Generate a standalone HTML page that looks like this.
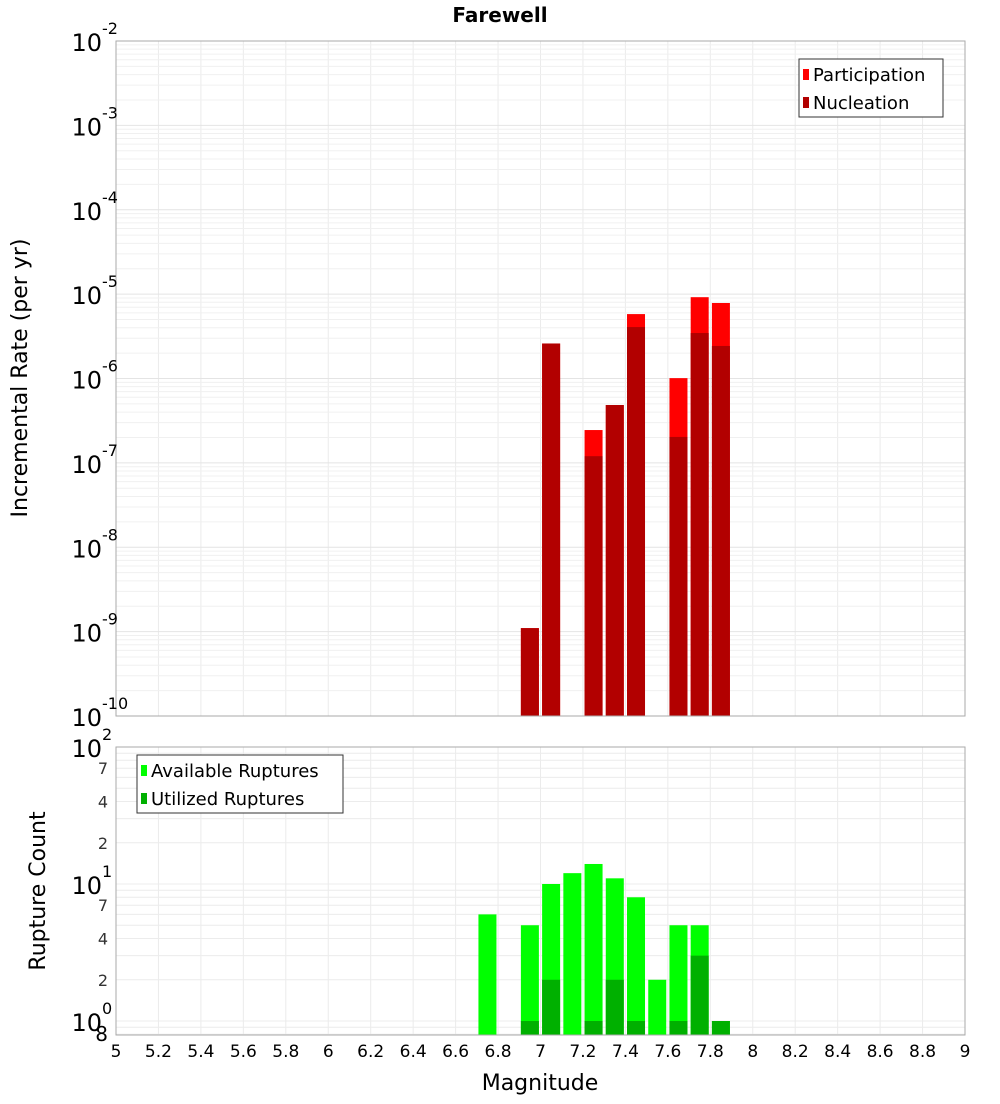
<!DOCTYPE html>
<html><head><meta charset="utf-8"><style>
body{margin:0;background:#fff;font-family:"DejaVu Sans","Liberation Sans",sans-serif;}
svg text{font-family:"DejaVu Sans","Liberation Sans",sans-serif;}
</style></head><body>
<svg id="chart" width="1000" height="1100" xmlns="http://www.w3.org/2000/svg">
<text x="500" y="22" text-anchor="middle" font-size="20" font-weight="bold">Farewell</text>
<g id="gtop"></g>
<g id="gbot"></g>
<text transform="translate(27,378) rotate(-90)" text-anchor="middle" font-size="22">Incremental Rate (per yr)</text>
<text transform="translate(45,891) rotate(-90)" text-anchor="middle" font-size="22">Rupture Count</text>
<text x="540" y="1090" text-anchor="middle" font-size="22">Magnitude</text>
</svg>
<script>
const mags=[6.75,6.95,7.05,7.25,7.35,7.45,7.65,7.75,7.85];
const participation=[0,1.1e-9,2.6e-6,2.45e-7,4.85e-7,5.8e-6,1.01e-6,9.2e-6,7.85e-6];
const nucleation=[0,1.1e-9,2.6e-6,1.2e-7,4.85e-7,4.07e-6,2.03e-7,3.46e-6,2.43e-6];
const available=[6,5,10,12,14,11,8,2,5,5,1];
const utilized=[0,1,2,0,1,2,1,0,1,3,1];
const countMags=[6.75,6.95,7.05,7.15,7.25,7.35,7.45,7.55,7.65,7.75,7.85];
const xTicks=[5,5.2,5.4,5.6,5.8,6,6.2,6.4,6.6,6.8,7,7.2,7.4,7.6,7.8,8,8.2,8.4,8.6,8.8,9];
const rateExps=[-2,-3,-4,-5,-6,-7,-8,-9,-10];
const countExps=[2,1,0];
const countMinor=[7,4,2];

const NS="http://www.w3.org/2000/svg";
const L=116,R=965;
const xs=m=>L+(m-5)/4*(R-L);
const T1=41,B1=716;
const yTop=v=>T1+(-2-Math.log10(v))*(B1-T1)/8;
const T2=747,B2=1035,DEC2=137;
const yBot=v=>T2+(2-Math.log10(v))*DEC2;
function el(p,tag,a,txt){const e=document.createElementNS(NS,tag);for(const k in a)e.setAttribute(k,a[k]);if(txt!==undefined)e.textContent=txt;p.appendChild(e);return e;}
const gTop=document.getElementById('gtop'),gBot=document.getElementById('gbot');
el(gTop,'rect',{x:L,y:T1,width:R-L,height:B1-T1,fill:'#fff',stroke:'#aaa'});
el(gBot,'rect',{x:L,y:T2,width:R-L,height:B2-T2,fill:'#fff',stroke:'#aaa'});
xTicks.forEach(t=>{
 const g1=el(gTop,'line',{x1:xs(t),x2:xs(t),y1:T1,y2:B1,stroke:'#ebebeb'});
 
 
 el(gBot,'line',{x1:xs(t),x2:xs(t),y1:T2,y2:B2,stroke:'#ebebeb'});
});
for(let e=-10;e<-2;e++)for(let k=1;k<10;k++){const yy=yTop(k*Math.pow(10,e));el(gTop,'line',{x1:L,x2:R,y1:yy,y2:yy,stroke:k==1?'#e4e4e4':'#f0f0f0'});}
for(let e=-1;e<2;e++)for(let k=1;k<10;k++){const yy=yBot(k*Math.pow(10,e));if(yy>=T2&&yy<=B2)el(gBot,'line',{x1:L,x2:R,y1:yy,y2:yy,stroke:'#ececec'});}
const bw=18;
mags.forEach((m,i)=>{
 if(participation[i]>0){const r=el(gTop,'rect',{x:xs(m)-bw/2,y:yTop(participation[i]),width:bw,height:B1-yTop(participation[i]),fill:'#ff0000'});
 
 }
 if(nucleation[i]>0){const r=el(gTop,'rect',{x:xs(m)-bw/2,y:yTop(nucleation[i]),width:bw,height:B1-yTop(nucleation[i]),fill:'#b20000'});
 
 }
});
countMags.forEach((m,i)=>{
 if(available[i]>0){const r=el(gBot,'rect',{x:xs(m)-bw/2,y:yBot(available[i]),width:bw,height:B2-yBot(available[i]),fill:'#00ff00'});
 
 }
 if(utilized[i]>0){const r=el(gBot,'rect',{x:xs(m)-bw/2,y:yBot(utilized[i]),width:bw,height:B2-yBot(utilized[i]),fill:'#00b000'});
 
 }
});
el(gTop,'rect',{x:L,y:T1,width:R-L,height:B1-T1,fill:'none',stroke:'#aaa'});
el(gBot,'rect',{x:L,y:T2,width:R-L,height:B2-T2,fill:'none',stroke:'#aaa'});
rateExps.forEach(e=>{const yy=yTop(Math.pow(10,e));
 const t=el(gTop,'text',{x:L-14,y:yy+10,'text-anchor':'end','font-size':24},'10');
 
 
 el(gTop,'text',{x:L-14,y:yy-7,'font-size':16},String(e));});
countExps.forEach(e=>{const yy=yBot(Math.pow(10,e));
 const t=el(gBot,'text',{x:L-14,y:yy+10,'text-anchor':'end','font-size':24},'10');
 
 
 el(gBot,'text',{x:L-14,y:yy-7,'font-size':16},String(e));});
[0,1].forEach(e=>countMinor.forEach(k=>{const yy=yBot(k*Math.pow(10,e));el(gBot,'text',{x:L-8,y:yy+6,'text-anchor':'end','font-size':16,fill:'#333'},String(k));}));
el(gBot,'text',{x:L-8,y:1041,'text-anchor':'end','font-size':20},'8');
xTicks.forEach(t=>{const tx=el(gBot,'text',{x:xs(t),y:1057,'text-anchor':'middle','font-size':17},String(t));
 
 });
function legend(p,lx,ly,w,items,name){const g=el(p,'g',{});
 
 
 el(g,'rect',{x:lx,y:ly,width:w,height:58,fill:'#fff',stroke:'#333'});
 items.forEach((it,i)=>{el(g,'rect',{x:lx+4,y:ly+10+i*28,width:6,height:11,fill:it[1]});el(g,'text',{x:lx+14,y:ly+22+i*28,'font-size':18},it[0]);});}
legend(gTop,799,59,144,[['Participation','#ff0000'],['Nucleation','#b20000']],'rate-legend');
legend(gBot,137,755,206,[['Available Ruptures','#00ff00'],['Utilized Ruptures','#00b000']],'count-legend');
</script>
</body></html>
